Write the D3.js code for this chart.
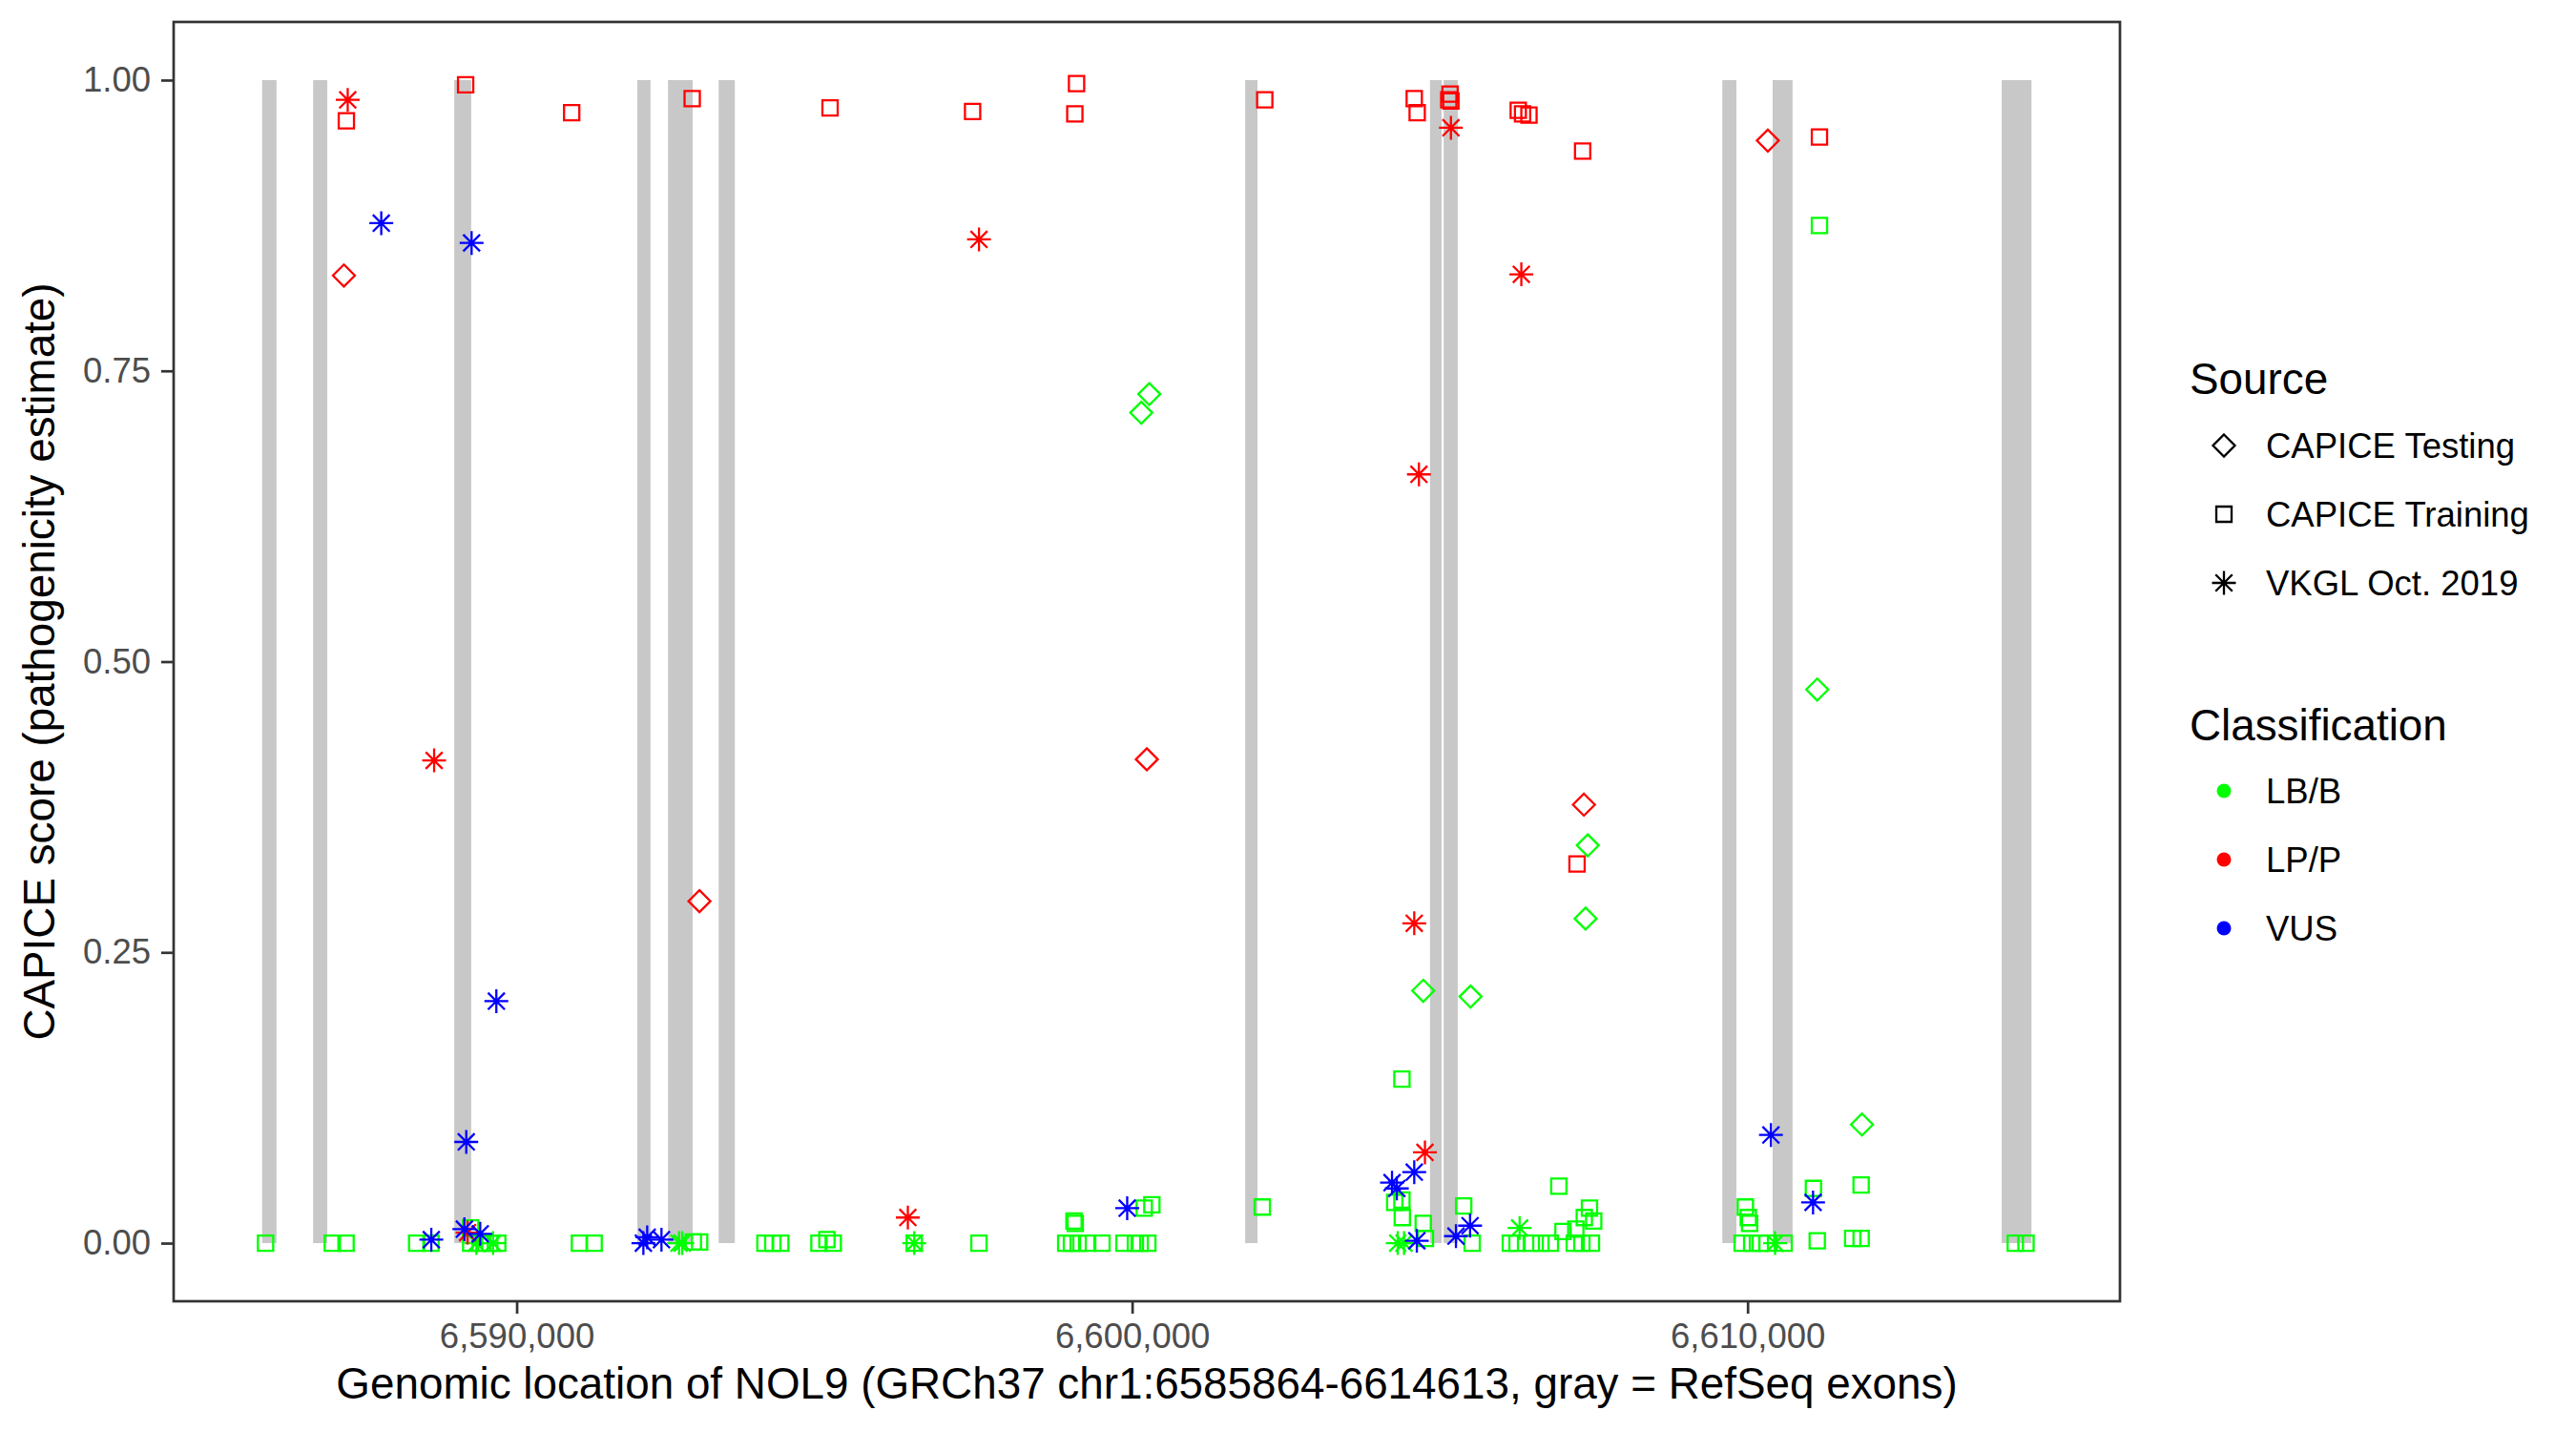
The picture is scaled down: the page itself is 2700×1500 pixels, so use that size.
<!DOCTYPE html>
<html>
<head>
    <title>NOL9 CAPICE scores</title>
    <script src="https://d3js.org/d3.v7.min.js"></script>
    <style>
        body { margin: 0; background: #fff; }
        svg { display: block; font-family: 'Liberation Sans', Arial, sans-serif; }
        .tick text { fill: #4d4d4d; font-size: 36.5px; }
        .tick line { stroke: #333; stroke-width: 2.7px; }
        .axis-title { fill: #000; font-size: 45.8px; }
        .legend-title { fill: #000; font-size: 45.8px; }
        .legend-label { fill: #000; font-size: 36.5px; }
    </style>
</head>
<body>
<div id="chart"></div>
<script>
    // gene region and RefSeq exons (GRCh37, chr1)
    const geneStart = 6585864, geneEnd = 6614613;
    const exonStarts = [6585864, 6586693, 6588985, 6591961, 6592459, 6593282, 6601837, 6604840, 6605062, 6609590, 6610407, 6614129];
    const exonEnds   = [6586098, 6586923, 6589261, 6592175, 6592860, 6593545, 6602037, 6605028, 6605291, 6609818, 6610731, 6614613];

    const xTicks = [6590000, 6600000, 6610000];
    const yTicks = [0, 0.25, 0.5, 0.75, 1];

    const sources = ["CAPICE Testing", "CAPICE Training", "VKGL Oct. 2019"];
    const classes = ["LB/B", "LP/P", "VUS"];
    const classColors = ["#00ff00", "#ff0000", "#0000ff"];

    // [position, score]
    const lbTesting = [[6600279, 0.730], [6600149, 0.714], [6604730, 0.217], [6605499, 0.212], [6611132, 0.476],
        [6607403, 0.342], [6607368, 0.279], [6611859, 0.102]];
    const lbTraining = [[6585920, 0], [6587005, 0], [6587228, 0], [6588375, 0], [6588608, 0], [6589253, 0.013],
        [6589253, 0], [6589408, 0], [6589563, 0], [6589693, 0], [6591020, 0], [6591259, 0], [6592871, 0.001],
        [6592973, 0.001], [6594034, 0], [6594162, 0], [6594291, 0], [6594911, 0], [6595041, 0.003], [6595144, 0],
        [6596460, 0], [6597511, 0], [6598921, 0], [6599014, 0], [6599055, 0.019], [6599076, 0.017], [6599123, 0],
        [6599278, 0], [6599510, 0], [6599867, 0], [6600053, 0], [6600131, 0], [6600197, 0.030], [6600255, 0],
        [6600321, 0.033], [6602115, 0.031], [6604267, 0.035], [6604384, 0.141], [6604384, 0.037], [6604390, 0.022],
        [6604730, 0.017], [6604766, 0.004], [6605387, 0.032], [6605525, 0], [6606145, 0], [6606254, 0], [6606486, 0],
        [6606641, 0], [6606796, 0], [6606933, 0.049], [6607001, 0.010], [6607184, 0], [6607209, 0.012], [6607308, 0],
        [6607347, 0.022], [6607431, 0.030], [6607463, 0], [6607500, 0.019], [6609912, 0], [6609964, 0.031],
        [6610012, 0.022], [6610033, 0.017], [6610067, 0], [6610207, 0], [6610315, 0], [6610594, 0], [6611070, 0.047],
        [6611132, 0.002], [6611168, 0.875], [6611708, 0.004], [6611845, 0.050], [6611845, 0.004], [6614350, 0],
        [6614524, 0]];
    const lbVkgl = [[6589346, 0], [6589616, 0], [6592638, 0], [6592690, 0], [6596460, 0], [6604316, 0], [6604418, 0],
        [6606296, 0.013], [6610447, 0]];

    const lpTesting = [[6587193, 0.832], [6592970, 0.294], [6600239, 0.416], [6607341, 0.377], [6610329, 0.948]];
    const lpTraining = [[6587233, 0.965], [6589171, 0.996], [6590894, 0.972], [6592852, 0.984], [6595092, 0.976],
        [6597408, 0.973], [6599069, 0.971], [6599097, 0.997], [6602155, 0.983], [6604584, 0.984], [6604632, 0.972],
        [6605145, 0.983], [6605166, 0.988], [6605180, 0.982], [6606274, 0.974], [6606344, 0.971], [6606448, 0.970],
        [6607229, 0.326], [6607320, 0.939], [6611168, 0.951]];
    const lpVkgl = [[6587255, 0.983], [6588659, 0.415], [6589202, 0.009], [6596356, 0.022], [6597512, 0.863],
        [6604584, 0.275], [6604660, 0.661], [6604758, 0.078], [6605180, 0.959], [6606324, 0.833]];

    const vusVkgl = [[6587800, 0.877], [6589268, 0.860], [6589670, 0.208], [6589181, 0.087], [6588613, 0.003],
        [6589150, 0.012], [6589408, 0.008], [6592059, 0], [6592121, 0.005], [6592353, 0.003], [6599920, 0.030],
        [6604223, 0.052], [6604301, 0.047], [6604584, 0.061], [6604626, 0.002], [6605262, 0.006], [6605491, 0.015],
        [6610379, 0.093], [6611064, 0.035]];

    // drawing order: LB/B, LP/P, VUS
    const groups = [
        { cls: 0, src: 1, pts: lbTraining },
        { cls: 0, src: 0, pts: lbTesting },
        { cls: 0, src: 2, pts: lbVkgl },
        { cls: 1, src: 1, pts: lpTraining },
        { cls: 1, src: 0, pts: lpTesting },
        { cls: 1, src: 2, pts: lpVkgl },
        { cls: 2, src: 2, pts: vusVkgl }
    ];

    const width = 2700, height = 1500;
    const panel = { left: 182, right: 2222, top: 23, bottom: 1364 };

    const span = geneEnd - geneStart;
    const x = d3.scaleLinear()
        .domain([geneStart - 0.05 * span, geneEnd + 0.05 * span])
        .range([panel.left, panel.right]);
    const y = d3.scaleLinear()
        .domain([-0.05, 1.05])
        .range([panel.bottom, panel.top]);

    // ggplot-like open shapes: diamond (5), square (0), star (8)
    function shapePath(src) {
        if (src === 0) {
            const d = 11.5;
            return `M0,${-d}L${d},0L0,${d}L${-d},0Z`;
        }
        if (src === 1) {
            const h = 8;
            return `M${-h},${-h}H${h}V${h}H${-h}Z`;
        }
        const a = 12.5, b = 8.8;
        return `M0,${-a}V${a}M${-a},0H${a}M${-b},${-b}L${b},${b}M${-b},${b}L${b},${-b}`;
    }

    const svg = d3.select('#chart').append('svg')
        .attr('width', width)
        .attr('height', height);

    svg.append('rect').attr('width', width).attr('height', height).attr('fill', '#fff');

    // exons
    svg.append('g')
        .selectAll('rect')
        .data(d3.zip(exonStarts, exonEnds))
        .join('rect')
        .attr('x', d => x(d[0]))
        .attr('width', d => x(d[1]) - x(d[0]))
        .attr('y', y(1))
        .attr('height', y(0) - y(1))
        .attr('fill', '#c8c8c8');

    // points
    const pointLayer = svg.append('g');
    groups.forEach(g => {
        pointLayer.append('g')
            .selectAll('path')
            .data(g.pts)
            .join('path')
            .attr('transform', d => `translate(${x(d[0])},${y(d[1])})`)
            .attr('d', shapePath(g.src))
            .attr('fill', 'none')
            .attr('stroke', classColors[g.cls])
            .attr('stroke-width', 2.3);
    });

    // panel border
    svg.append('rect')
        .attr('x', panel.left)
        .attr('y', panel.top)
        .attr('width', panel.right - panel.left)
        .attr('height', panel.bottom - panel.top)
        .attr('fill', 'none')
        .attr('stroke', '#333')
        .attr('stroke-width', 2.7);

    // axes
    const xAxis = svg.append('g')
        .attr('transform', `translate(0,${panel.bottom})`)
        .call(d3.axisBottom(x).tickValues(xTicks).tickFormat(d3.format(',')).tickSize(13).tickPadding(10));
    const yAxis = svg.append('g')
        .attr('transform', `translate(${panel.left},0)`)
        .call(d3.axisLeft(y).tickValues(yTicks).tickFormat(d3.format('.2f')).tickSize(13).tickPadding(11));
    [xAxis, yAxis].forEach(a => {
        a.select('.domain').remove();
        a.attr('font-family', null).attr('font-size', null);
    });

    svg.append('text')
        .attr('class', 'axis-title')
        .attr('x', (panel.left + panel.right) / 2)
        .attr('y', 1466)
        .attr('text-anchor', 'middle')
        .text('Genomic location of NOL9 (GRCh37 chr1:6585864-6614613, gray = RefSeq exons)');

    svg.append('text')
        .attr('class', 'axis-title')
        .attr('transform', `translate(57,${(panel.top + panel.bottom) / 2}) rotate(-90)`)
        .attr('text-anchor', 'middle')
        .text('CAPICE score (pathogenicity estimate)');

    // legends
    const legendX = 2295, keyX = 2331, labelX = 2375, rowStep = 72;

    const srcLegend = svg.append('g');
    srcLegend.append('text').attr('class', 'legend-title')
        .attr('x', legendX).attr('y', 413).text('Source');
    sources.forEach((s, i) => {
        const cy = 467 + i * rowStep;
        srcLegend.append('path')
            .attr('transform', `translate(${keyX},${cy})`)
            .attr('d', shapePath(i))
            .attr('fill', 'none')
            .attr('stroke', '#000')
            .attr('stroke-width', 2.3);
        srcLegend.append('text').attr('class', 'legend-label')
            .attr('x', labelX).attr('y', cy + 13).text(s);
    });

    const clsLegend = svg.append('g');
    clsLegend.append('text').attr('class', 'legend-title')
        .attr('x', legendX).attr('y', 776).text('Classification');
    classes.forEach((c, i) => {
        const cy = 829 + i * rowStep;
        clsLegend.append('circle')
            .attr('cx', keyX).attr('cy', cy).attr('r', 7.5)
            .attr('fill', classColors[i]);
        clsLegend.append('text').attr('class', 'legend-label')
            .attr('x', labelX).attr('y', cy + 13).text(c);
    });
</script>
</body>
</html>
